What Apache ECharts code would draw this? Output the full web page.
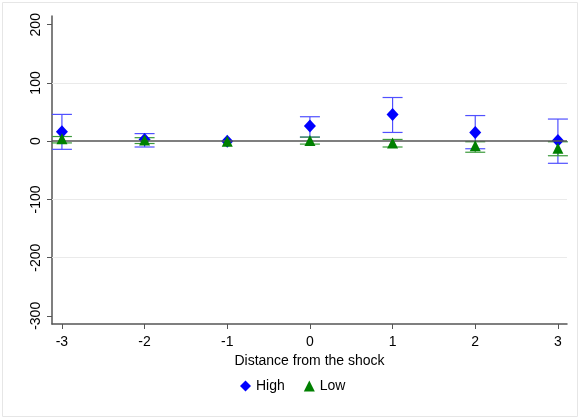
<!DOCTYPE html>
<html><head><meta charset="utf-8">
<script src="https://cdn.jsdelivr.net/npm/echarts@6/dist/echarts.min.js"></script>
<style>html,body{margin:0;padding:0;background:#fff}#c{width:580px;height:419px}</style>
</head><body><div id="c"></div>
<script>
const xTicks = [-3, -2, -1, 0, 1, 2, 3];
const yTicks = [-300, -200, -100, 0, 100, 200];
const gridValues = [100, -100, -200];
const distance = [-3, -2, -1, 0, 1, 2, 3];
const highEst = [16, 3, 0, 26, 46, 15, 1];
const highLo  = [-14, -10, null, 7, 15, -13, -38];
const highHi  = [46, 13, null, 42, 75, 44, 38];
const lowEst  = [4, 2, 0, 1, -3, -8, -12];
const lowLo   = [-3, -4, null, -5, -10, -19, -25];
const lowHi   = [8, 6, null, 7, 3, -1, -1];

function ebData(lo, hi){
  const out=[];
  distance.forEach((d,i)=>{ if(lo[i]!==null) out.push([d, lo[i], hi[i]]); });
  return out;
}
function ebRender(color){
  return function(params, api){
    const x=api.value(0);
    const p1=api.coord([x, api.value(1)]);
    const p2=api.coord([x, api.value(2)]);
    const w=10;
    const st={stroke:color, lineWidth:1.2};
    return {type:'group', children:[
      {type:'line', shape:{x1:p1[0],y1:p1[1],x2:p2[0],y2:p2[1]}, style:st},
      {type:'line', shape:{x1:p1[0]-w,y1:p1[1],x2:p1[0]+w,y2:p1[1]}, style:st},
      {type:'line', shape:{x1:p2[0]-w,y1:p2[1],x2:p2[0]+w,y2:p2[1]}, style:st}
    ]};
  };
}
const chart = echarts.init(document.getElementById('c'), null, {renderer:'canvas'});
const font = 'Liberation Sans, Arial, sans-serif';
chart.setOption({
  animation:false,
  backgroundColor:'#fff',
  graphic:[{type:'rect', shape:{x:2.5,y:2.5,width:575,height:414}, style:{fill:'none', stroke:'#e6e6e6', lineWidth:1}, z:-10}],
  grid:{left:52, right:13, top:16, bottom:95},
  xAxis:{type:'value', min:-3.12, max:3.11,
    name:'Distance from the shock', nameLocation:'middle', nameGap:26,
    nameTextStyle:{fontFamily:font, fontSize:14, color:'#000'},
    axisLine:{onZero:false, lineStyle:{color:'#555', width:1.5}},
    axisTick:{customValues:xTicks, length:5, lineStyle:{color:'#555'}},
    axisLabel:{customValues:xTicks, fontFamily:font, fontSize:14, color:'#000', margin:11},
    splitLine:{show:false}},
  yAxis:{type:'value', min:-314, max:215,
    axisLine:{show:true, onZero:false, lineStyle:{color:'#555', width:1.5}},
    axisTick:{show:true, customValues:yTicks, length:5, lineStyle:{color:'#555'}},
    axisLabel:{customValues:yTicks, rotate:90, fontFamily:font, fontSize:14, color:'#000', margin:9},
    splitLine:{show:false}},
  legend:{bottom:21, left:235, itemGap:19, itemWidth:11, itemHeight:11,
    textStyle:{fontFamily:font, fontSize:14, color:'#000'},
    data:[{name:'High', icon:'diamond'},{name:'Low', icon:'triangle'}]},
  series:[
    {type:'line', data:[], silent:true, z:1,
      markLine:{silent:true, symbol:'none', label:{show:false},
        lineStyle:{color:'#eaeaea', width:1.2, type:'solid'},
        data:gridValues.map(v=>({yAxis:v}))}},
    {type:'line', data:[], silent:true, z:2,
      markLine:{silent:true, symbol:'none', label:{show:false},
        lineStyle:{color:'#555', width:1.5, type:'solid'},
        data:[{yAxis:0}]}},
    {type:'custom', name:'HighCI', renderItem:ebRender('#5050ff'), data:ebData(highLo, highHi), z:3, encode:{x:0,y:[1,2]}},
    {type:'custom', name:'LowCI', renderItem:ebRender('#3c9a3c'), data:ebData(lowLo, lowHi), z:3, encode:{x:0,y:[1,2]}},
    {type:'scatter', name:'Low', symbol:'triangle', symbolSize:11, itemStyle:{color:'#008000', opacity:1},
      data:distance.map((d,i)=>[d, lowEst[i]]), z:5},
    {type:'scatter', name:'High', symbol:'diamond', symbolSize:[12,13], itemStyle:{color:'#0000ff', opacity:1},
      data:distance.map((d,i)=>[d, highEst[i]]), z:4}
  ]
});
</script></body></html>
